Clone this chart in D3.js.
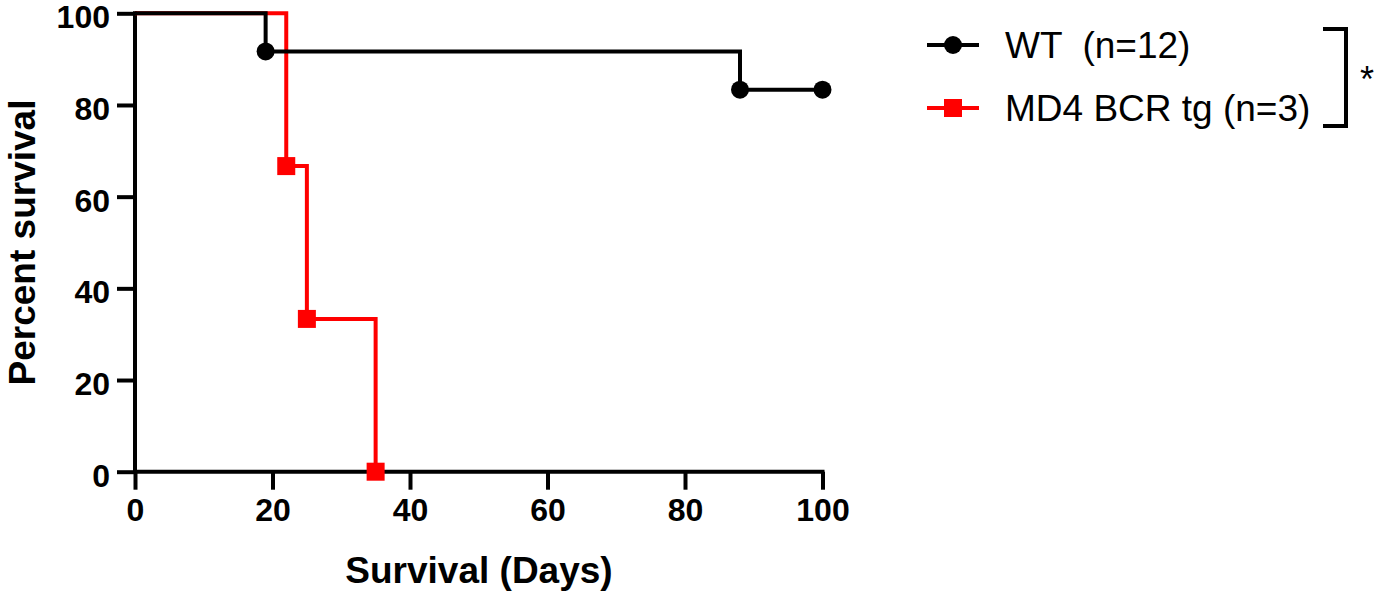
<!DOCTYPE html>
<html><head><meta charset="utf-8">
<script src="https://cdn.jsdelivr.net/npm/d3@7"></script>
<style>body{margin:0;background:#fff}svg{display:block}</style>
</head><body>
<script>
const xTicks = [0, 20, 40, 60, 80, 100];
const yTicks = [0, 20, 40, 60, 80, 100];
const wtSteps = [[0, 100], [19, 91.67], [88, 83.33], [100, 83.33]];
const wtMarkers = [[19, 91.67], [88, 83.33], [100, 83.33]];
const tgSteps = [[0, 100], [22, 66.67], [25, 33.33], [35, 0]];
const tgMarkers = [[22, 66.67], [25, 33.33], [35, 0]];
const seriesNames = ["WT  (n=12)", "MD4 BCR tg (n=3)"];
const seriesColors = ["#000000", "#ff0000"];
const xTitle = "Survival (Days)";
const yTitle = "Percent survival";
const sigLabel = "*";

const W = 1375, H = 594;
const svg = d3.select("body").append("svg").attr("width", W).attr("height", H);
const x = d3.scaleLinear().domain([0, 100]).range([135, 822.5]);
const y = d3.scaleLinear().domain([0, 100]).range([471.7, 13.3]);
const font = "'Liberation Sans', Arial, sans-serif";

// axes
const xAxis = svg.append("g").attr("transform", `translate(0,${y(0)})`)
  .call(d3.axisBottom(x).tickValues(xTicks).tickSize(18).tickPadding(8).tickSizeOuter(0));
const yAxis = svg.append("g").attr("transform", `translate(${x(0)},0)`)
  .call(d3.axisLeft(y).tickValues(yTicks).tickSize(18).tickPadding(7).tickSizeOuter(0));
[xAxis, yAxis].forEach(g => {
  g.select(".domain").attr("stroke", "#000").attr("stroke-width", 4);
  g.selectAll(".tick line").attr("stroke", "#000").attr("stroke-width", 4);
  g.selectAll(".tick text").attr("fill", "#000").style("font-family", font)
    .style("font-weight", "bold").style("font-size", "32px");
});
xAxis.select(".domain").attr("d", `M${x(0)-2},0H${x(100)+2}`);
yAxis.select(".domain").attr("d", `M0,${y(0)+2}V${y(100)-2}`);
xAxis.selectAll(".tick text").attr("dy", "0.72em");
yAxis.selectAll(".tick text").attr("dy", "0.45em");

// step lines
const line = d3.line().x(d => x(d[0])).y(d => y(d[1])).curve(d3.curveStepAfter);
svg.append("path").datum(tgSteps).attr("d", line).attr("fill", "none")
  .attr("stroke", seriesColors[1]).attr("stroke-width", 4);
svg.selectAll(".sq").data(tgMarkers).enter().append("rect")
  .attr("x", d => x(d[0]) - 9).attr("y", d => y(d[1]) - 9)
  .attr("width", 18).attr("height", 18).attr("fill", seriesColors[1]);
svg.append("path").datum(wtSteps).attr("d", line).attr("fill", "none")
  .attr("stroke", seriesColors[0]).attr("stroke-width", 4);
svg.selectAll(".ci").data(wtMarkers).enter().append("circle")
  .attr("cx", d => x(d[0])).attr("cy", d => y(d[1])).attr("r", 9).attr("fill", seriesColors[0]);

// axis titles
svg.append("text").attr("x", 479).attr("y", 583)
  .attr("text-anchor", "middle").style("font-family", font).style("font-weight", "bold")
  .style("font-size", "37px").text(xTitle);
svg.append("text").attr("transform", `translate(35,${(y(0)+y(100))/2}) rotate(-90)`)
  .attr("text-anchor", "middle").style("font-family", font).style("font-weight", "bold")
  .style("font-size", "37px").text(yTitle);

// legend
const leg = svg.append("g");
const ly = [45, 108];
seriesNames.forEach((name, i) => {
  leg.append("line").attr("x1", 927).attr("x2", 979).attr("y1", ly[i]).attr("y2", ly[i])
    .attr("stroke", seriesColors[i]).attr("stroke-width", 4);
  if (i === 0) leg.append("circle").attr("cx", 953).attr("cy", ly[i]).attr("r", 9).attr("fill", seriesColors[i]);
  else leg.append("rect").attr("x", 944).attr("y", ly[i] - 9).attr("width", 18).attr("height", 18).attr("fill", seriesColors[i]);
  leg.append("text").attr("x", 1005).attr("y", ly[i] + 13).style("font-family", font)
    .style("font-size", "37px").attr("fill", "#000").style("white-space", "pre")
    .attr("xml:space", "preserve").text(name);
});
// significance bracket
svg.append("path").attr("d", "M1323,29H1346V126H1323").attr("fill", "none")
  .attr("stroke", "#000").attr("stroke-width", 4);
svg.append("text").attr("x", 1360).attr("y", 92).style("font-family", font)
  .style("font-size", "36px").text(sigLabel);
</script>
</body></html>
